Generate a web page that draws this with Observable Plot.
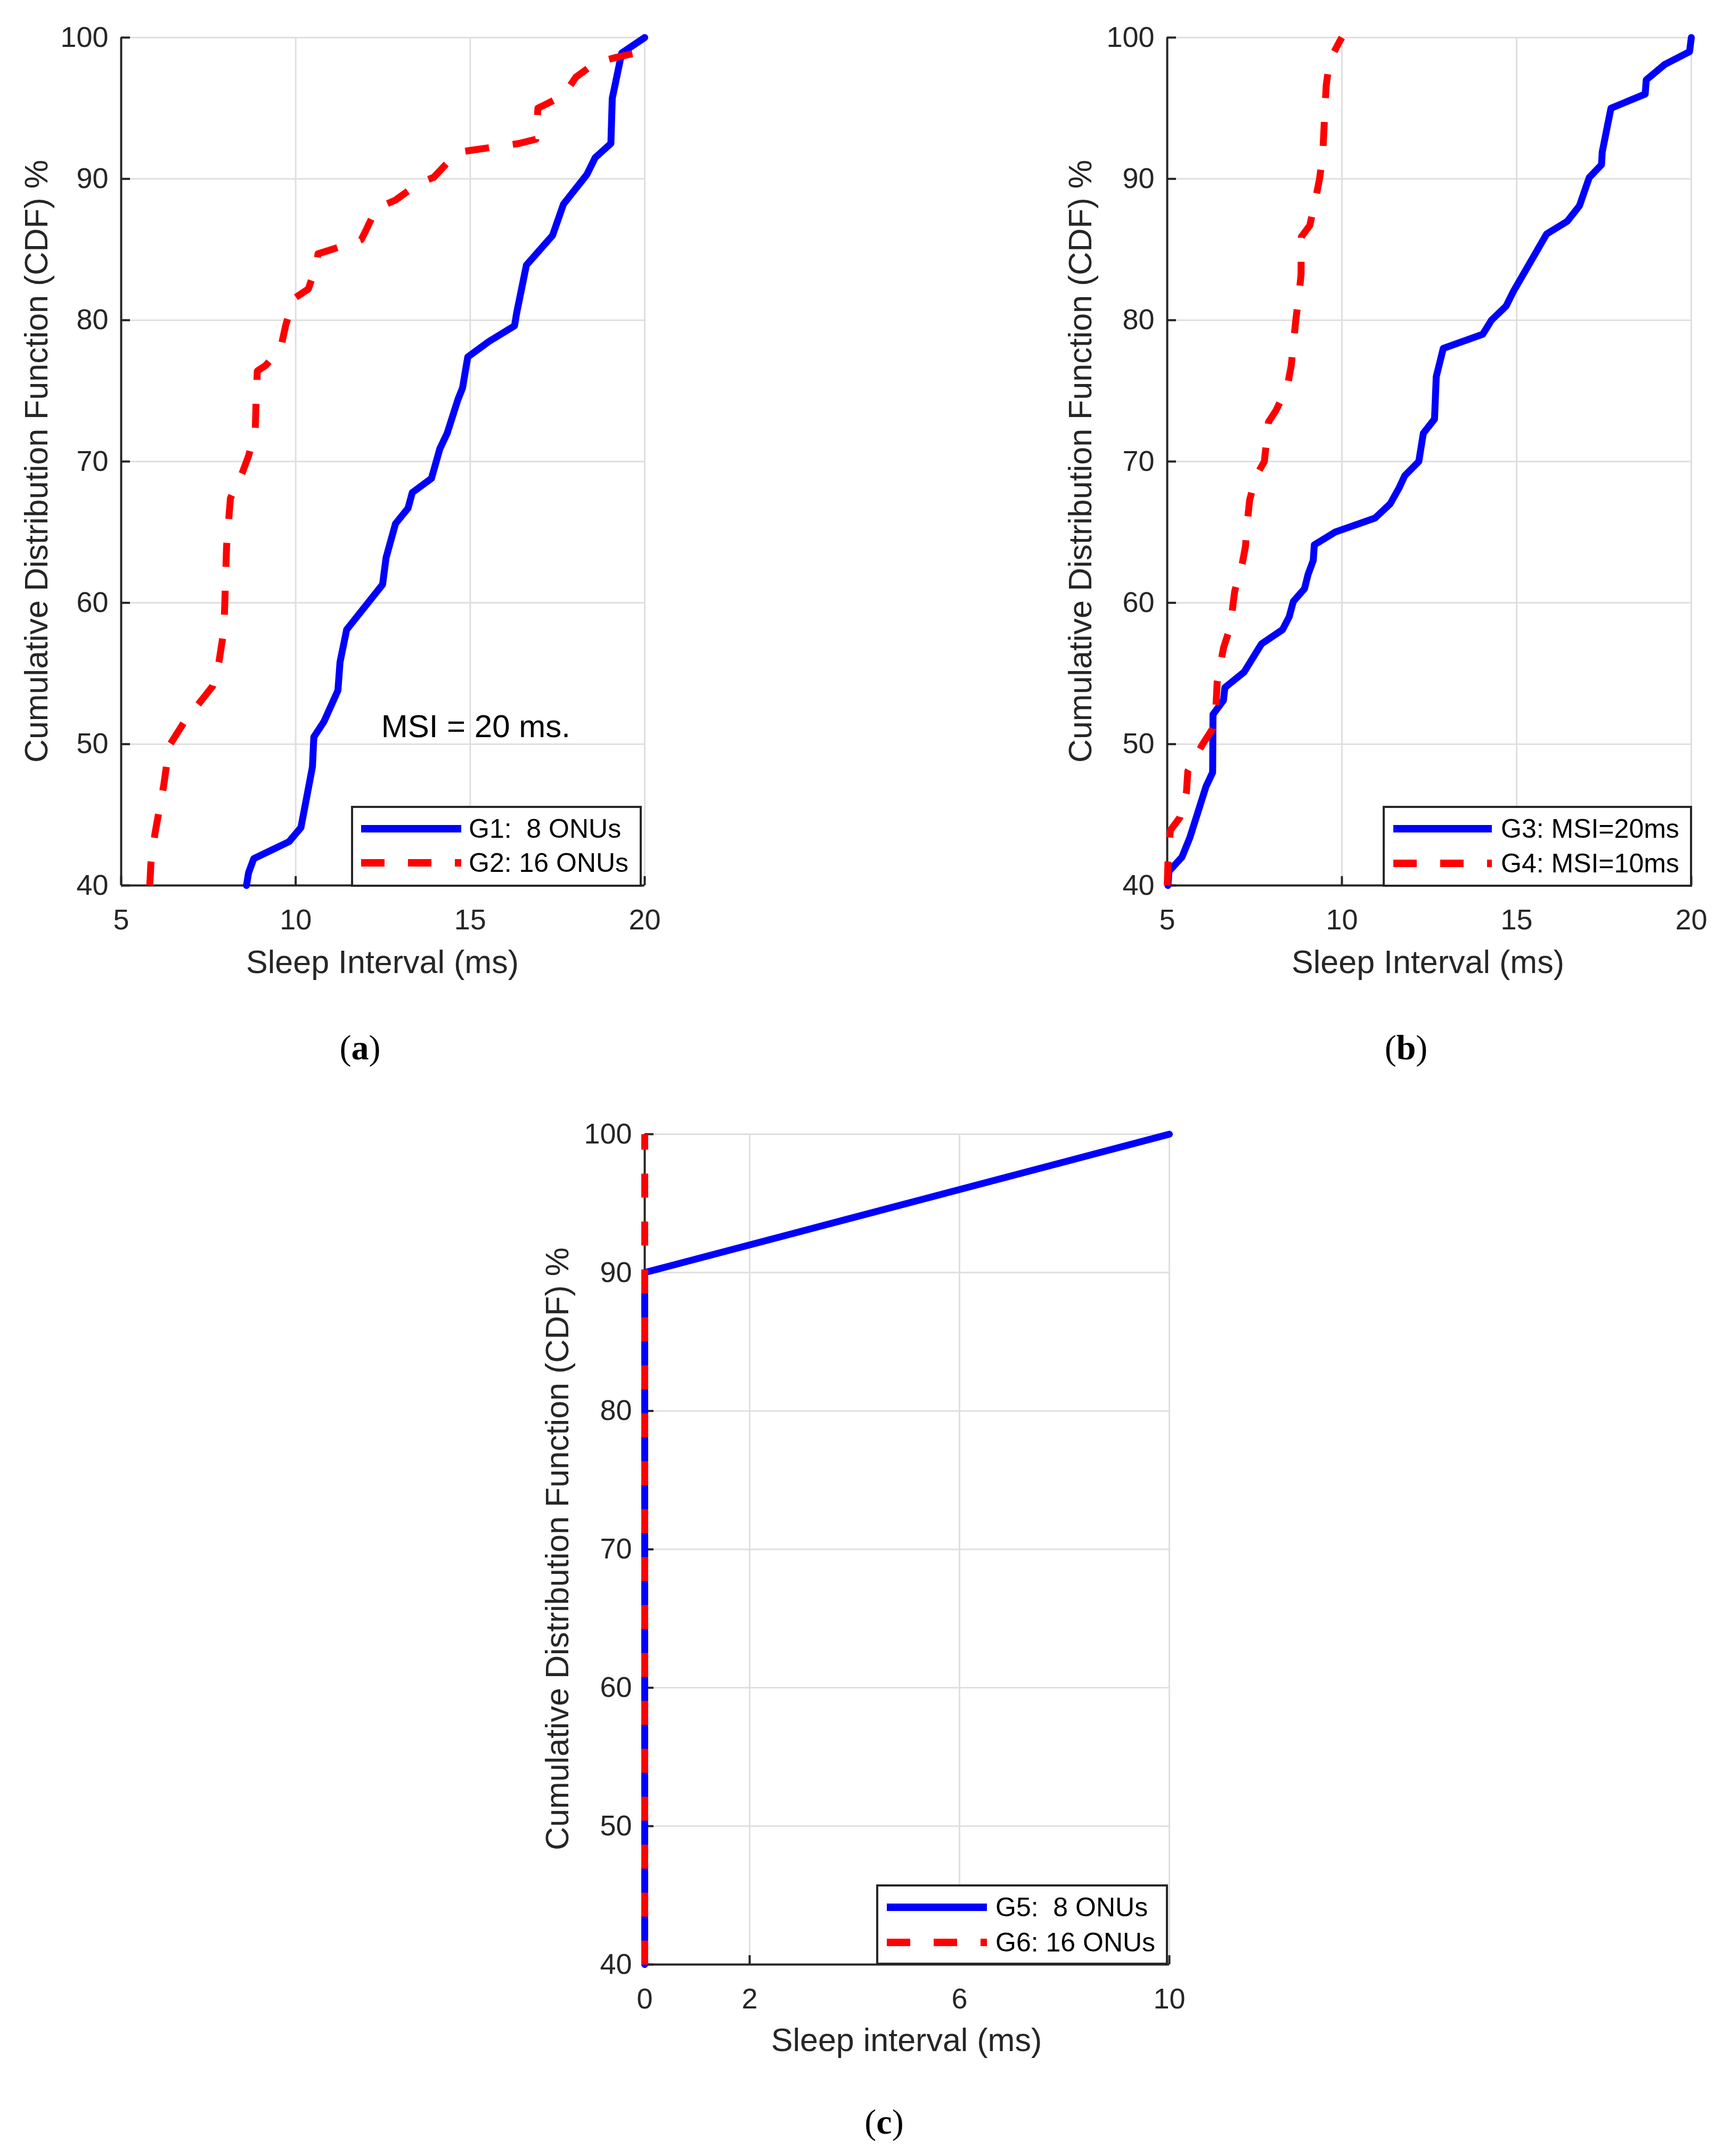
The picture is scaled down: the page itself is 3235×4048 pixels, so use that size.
<!DOCTYPE html>
<html><head><meta charset="utf-8">
<script src="https://cdn.jsdelivr.net/npm/d3@7"></script>
<script src="https://cdn.jsdelivr.net/npm/@observablehq/plot@0.6"></script>
<style>
body{margin:0;background:#fff;}
#root{position:relative;width:3235px;height:4048px;background:#fff;overflow:hidden;font-family:"Liberation Sans",Arial,Helvetica,sans-serif;}
.panel{position:absolute;}
.lbl{position:absolute;color:#262626;font-size:61px;line-height:1;white-space:nowrap;transform:translate(-50%,-50%);}
.ylbl{transform:translate(-50%,-50%) rotate(-90deg);}
.cap{position:absolute;font-family:"Liberation Serif","DejaVu Serif",serif;font-size:66px;line-height:1;white-space:nowrap;transform:translate(-50%,-50%);color:#000;}
.legend{position:absolute;box-sizing:border-box;border:4px solid #262626;background:#fff;}
.row{position:absolute;left:0;height:60px;width:100%;}
.row svg{position:absolute;top:0;}
.row span{position:absolute;top:0;height:60px;line-height:60px;font-size:50px;color:#000;white-space:pre;}
</style>
</head><body><div id="root"></div>
<script>
// ---------- data ----------
const yTicks = [40, 50, 60, 70, 80, 90, 100];
const xTicksAB = [5, 10, 15, 20];
const xTicksC = [0, 2, 6, 10];

// (a) G1: 8 ONUs
const g1x = [8.59, 8.65, 8.80, 9.81, 10.15, 10.32, 10.48, 10.52, 10.81, 11.21, 11.27, 11.46, 12.49, 12.59, 12.86, 13.22, 13.34, 13.89, 14.13, 14.34, 14.65, 14.78, 14.93, 15.54, 16.27, 16.33, 16.61, 17.36, 17.67, 18.34, 18.58, 19.03, 19.07, 19.34, 20.0];
const g1y = [40, 40.9, 41.9, 43.1, 44.1, 46.3, 48.4, 50.5, 51.6, 53.8, 55.8, 58.1, 61.3, 63.2, 65.6, 66.7, 67.8, 68.8, 70.9, 72.0, 74.4, 75.2, 77.4, 78.5, 79.6, 80.5, 83.9, 86.0, 88.2, 90.3, 91.5, 92.5, 95.7, 98.9, 100];
// (a) G2: 16 ONUs
const g2x = [5.82, 5.85, 5.97, 6.22, 6.38, 6.79, 7.62, 7.80, 7.92, 7.96, 8.02, 8.13, 8.47, 8.65, 8.84, 8.86, 8.90, 9.14, 9.57, 9.71, 9.93, 10.36, 10.60, 10.64, 11.03, 11.88, 12.0, 12.31, 12.86, 13.53, 13.95, 14.56, 14.68, 16.39, 16.88, 16.94, 17.67, 18.03, 18.58, 19.19, 19.92, 20];
const g2y = [40, 41.5, 43.7, 47.1, 49.9, 51.5, 54.1, 55.8, 57.7, 59.3, 64.0, 67.4, 69.2, 70.4, 72.1, 73.8, 76.4, 76.8, 78.0, 79.6, 81.5, 82.2, 83.9, 84.7, 85.0, 85.7, 86.3, 87.9, 88.5, 89.7, 90.1, 91.7, 91.9, 92.5, 92.8, 95.0, 95.9, 97.2, 98.2, 98.6, 99.0, 100];
// (b) G3: MSI=20ms
const g3x = [5.02, 5.05, 5.42, 5.65, 6.11, 6.3, 6.31, 6.61, 6.65, 7.2, 7.7, 8.3, 8.49, 8.61, 8.93, 9.03, 9.18, 9.21, 9.80, 10.95, 11.38, 11.63, 11.8, 12.2, 12.33, 12.65, 12.7, 12.9, 14.03, 14.28, 14.7, 14.9, 15.86, 16.45, 16.8, 17.08, 17.43, 17.45, 17.7, 18.68, 18.71, 19.24, 19.95, 20];
const g3y = [40, 41.0, 42.0, 43.4, 47.0, 48.0, 52.1, 53.1, 54.0, 55.1, 57.1, 58.1, 59.0, 60.1, 61.0, 62.0, 63.0, 64.1, 65.0, 66.0, 67.0, 68.1, 69.0, 70.0, 72.0, 73.0, 76.0, 78.0, 79.0, 80.0, 81.0, 82.0, 86.1, 87.0, 88.1, 90.1, 91.0, 91.9, 95.0, 96.0, 97.0, 98.1, 99.0, 100];
// (b) G4: MSI=10ms
const g4x = [5.0, 5.02, 5.09, 5.36, 5.55, 5.59, 5.99, 6.30, 6.4, 6.43, 6.61, 6.74, 6.86, 6.93, 7.15, 7.24, 7.30, 7.36, 7.55, 7.78, 7.9, 8.11, 8.43, 8.55, 8.68, 8.78, 8.83, 8.84, 9.08, 9.24, 9.36, 9.45, 9.51, 9.55, 9.65, 9.95, 10.0];
const g4y = [40, 41.5, 43.9, 44.8, 46.6, 48.1, 49.9, 51.1, 52.9, 54.4, 56.8, 57.8, 59.4, 60.8, 62.8, 64.0, 65.9, 67.3, 69.0, 70.0, 72.8, 73.6, 75.2, 76.8, 80.0, 82.0, 83.2, 85.9, 86.7, 88.5, 90.0, 91.7, 94.7, 96.6, 98.4, 99.8, 100];
// (c) G5: 8 ONUs, G6: 16 ONUs
const g5x = [0, 0, 10];
const g5y = [40, 90, 100];
const g6x = [0, 0];
const g6y = [40, 100];

const yLabel = "Cumulative Distribution Function (CDF) %";
const msiText = "MSI = 20 ms.";
const msiPos = {x: 12.45, y: 50.5};

// ---------- styles ----------
const BLUE = "#0000ff", RED = "#ff0000", AX = "#262626", GRID = "#dfdfdf";
const DASH = "45 45";
const LW = 13;

const root = document.getElementById("root");
const pts = (xs, ys) => xs.map((x, i) => ({x, y: ys[i]}));

function makePanel(cfg) {
  const mR = 40, mB = 110;
  const marks = [
    Plot.gridX(cfg.xTicks, {stroke: GRID, strokeOpacity: 1, strokeWidth: 3}),
    Plot.gridY(yTicks, {stroke: GRID, strokeOpacity: 1, strokeWidth: 3}),
    Plot.ruleX([cfg.xDomain[0]], {stroke: AX, strokeWidth: 4}),
    Plot.ruleY([40], {stroke: AX, strokeWidth: 4}),
    Plot.axisX(cfg.xTicks, {tickSize: -17, fill: "none", stroke: AX, strokeWidth: 4, label: null}),
    Plot.axisX(cfg.xTicks, {tickSize: 0, tickPadding: 44, fill: AX, label: null, fontSize: 54}),
    Plot.axisY(yTicks, {tickSize: -17, fill: "none", stroke: AX, strokeWidth: 4, label: null}),
    Plot.axisY(yTicks, {tickSize: 0, tickPadding: 24, fill: AX, label: null, fontSize: 54})
  ];
  for (const s of cfg.series) {
    marks.push(Plot.line(pts(s.x, s.y), {x: "x", y: "y", stroke: s.color, strokeWidth: LW,
      strokeDasharray: s.dashed ? DASH : null, strokeLinecap: s.dashed ? "butt" : "round", strokeLinejoin: "round"}));
  }
  if (cfg.extra) marks.push(...cfg.extra);
  const svg = Plot.plot({
    width: cfg.mL + cfg.iw + mR, height: cfg.mT + cfg.ih + mB,
    marginLeft: cfg.mL, marginTop: cfg.mT, marginRight: mR, marginBottom: mB,
    style: {fontFamily: "'Liberation Sans', Arial, sans-serif", fontSize: "54px", color: AX, background: "transparent", overflow: "visible", maxWidth: "none"},
    x: {domain: cfg.xDomain},
    y: {domain: [40, 100]},
    marks
  });
  const div = document.createElement("div");
  div.className = "panel";
  div.style.left = cfg.left + "px";
  div.style.top = cfg.top + "px";
  div.appendChild(svg);
  root.appendChild(div);

  const xl = document.createElement("div");
  xl.className = "lbl"; xl.textContent = cfg.xLabel;
  xl.style.left = cfg.xLabelPos[0] + "px"; xl.style.top = cfg.xLabelPos[1] + "px";
  root.appendChild(xl);
  const yl = document.createElement("div");
  yl.className = "lbl ylbl"; yl.textContent = yLabel;
  yl.style.left = cfg.yLabelPos[0] + "px"; yl.style.top = cfg.yLabelPos[1] + "px";
  root.appendChild(yl);
  const cp = document.createElement("div");
  cp.className = "cap";
  cp.innerHTML = "(<b>" + cfg.caption + "</b>)";
  cp.style.left = cfg.capPos[0] + "px"; cp.style.top = cfg.capPos[1] + "px";
  root.appendChild(cp);

  const lg = document.createElement("div");
  lg.className = "legend";
  const [lx, ly, lw, lh] = cfg.legendBox;
  Object.assign(lg.style, {left: lx + "px", top: ly + "px", width: lw + "px", height: lh + "px"});
  cfg.series.forEach((s, i) => {
    const row = document.createElement("div");
    row.className = "row";
    row.style.top = (cfg.legendRows[i] - 30 - 4) + "px";
    const ns = "http://www.w3.org/2000/svg";
    const sv = document.createElementNS(ns, "svg");
    sv.setAttribute("width", 200); sv.setAttribute("height", 60);
    sv.style.left = (cfg.legendSample[0] - 4) + "px";
    const ln = document.createElementNS(ns, "line");
    ln.setAttribute("x1", 0); ln.setAttribute("x2", cfg.legendSample[1] - cfg.legendSample[0]);
    ln.setAttribute("y1", 30); ln.setAttribute("y2", 30);
    ln.setAttribute("stroke", s.color); ln.setAttribute("stroke-width", 14);
    if (s.dashed) ln.setAttribute("stroke-dasharray", "44 44");
    sv.appendChild(ln);
    row.appendChild(sv);
    const sp = document.createElement("span");
    sp.textContent = s.name;
    sp.style.left = (cfg.legendText - 4) + "px";
    row.appendChild(sp);
    lg.appendChild(row);
  });
  root.appendChild(lg);
}

makePanel({
  left: 0, top: 0, mL: 227, mT: 70, iw: 983, ih: 1592,
  xDomain: [5, 20], xTicks: xTicksAB,
  series: [
    {name: "G1:  8 ONUs", x: g1x, y: g1y, color: BLUE, dashed: false},
    {name: "G2: 16 ONUs", x: g2x, y: g2y, color: RED, dashed: true}
  ],
  extra: [Plot.text([msiText], {x: msiPos.x, y: msiPos.y, text: d => d, textAnchor: "start", lineAnchor: "bottom", fontSize: 60, fill: "#000"})],
  xLabel: "Sleep Interval (ms)", xLabelPos: [718, 1806], yLabelPos: [68, 866],
  caption: "a", capPos: [676, 1967],
  legendBox: [659, 1513, 546, 152], legendRows: [43, 107], legendSample: [19, 207], legendText: 221
});

makePanel({
  left: 1950, top: 0, mL: 241, mT: 70, iw: 984, ih: 1592,
  xDomain: [5, 20], xTicks: xTicksAB,
  series: [
    {name: "G3: MSI=20ms", x: g3x, y: g3y, color: BLUE, dashed: false},
    {name: "G4: MSI=10ms", x: g4x, y: g4y, color: RED, dashed: true}
  ],
  xLabel: "Sleep Interval (ms)", xLabelPos: [2681, 1806], yLabelPos: [2028, 866],
  caption: "b", capPos: [2640, 1967],
  legendBox: [2596, 1513, 581, 152], legendRows: [43, 108], legendSample: [20, 205], legendText: 222
});

makePanel({
  left: 950, top: 2059, mL: 260, mT: 70, iw: 985, ih: 1559,
  xDomain: [0, 10], xTicks: xTicksC,
  series: [
    {name: "G5:  8 ONUs", x: g5x, y: g5y, color: BLUE, dashed: false},
    {name: "G6: 16 ONUs", x: g6x, y: g6y, color: RED, dashed: true}
  ],
  xLabel: "Sleep interval (ms)", xLabelPos: [1702, 3830], yLabelPos: [1046, 2908],
  caption: "c", capPos: [1660, 3984],
  legendBox: [1645, 3538, 548, 151], legendRows: [43, 109], legendSample: [20, 208], legendText: 224
});
</script>
</body></html>
